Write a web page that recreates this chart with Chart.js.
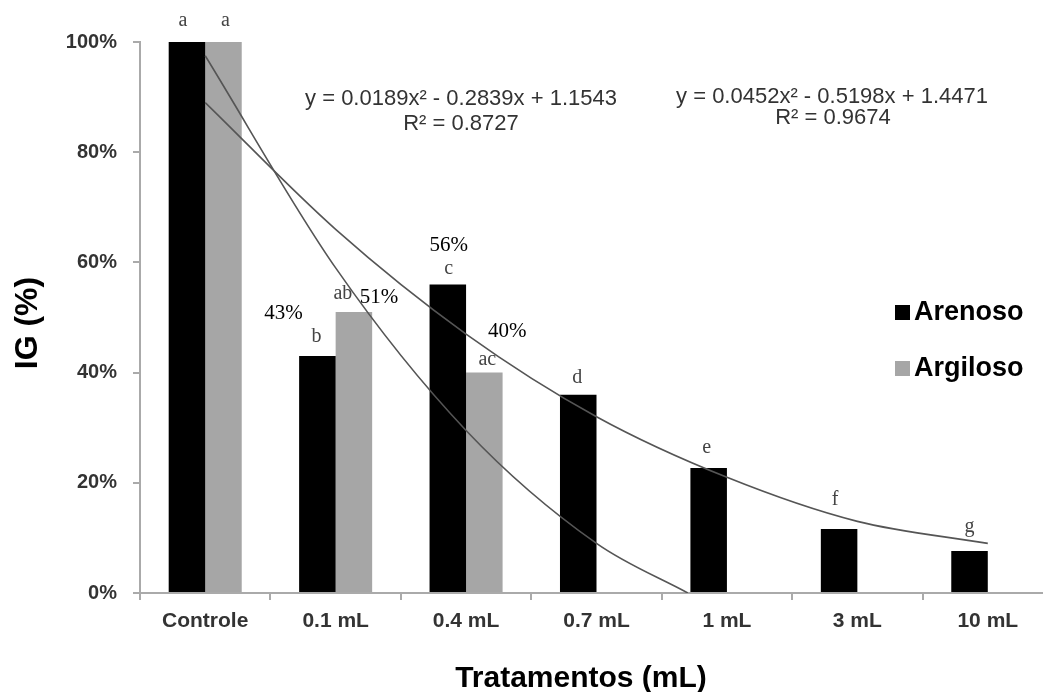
<!DOCTYPE html>
<html>
<head>
<meta charset="utf-8">
<script src="https://cdn.jsdelivr.net/npm/chart.js@4.4.0/dist/chart.umd.min.js"></script>
<style>
  html, body { margin: 0; padding: 0; background: #fff; overflow: hidden; }
  #wrap { width: 1043px; height: 692px; overflow: hidden; }
</style>
</head>
<body>
<div id="wrap"><canvas id="igChart" width="1060" height="692"></canvas></div>
<script>
// DATA
const categories = ['Controle', '0.1 mL', '0.4 mL', '0.7 mL', '1 mL', '3 mL', '10 mL'];
const arenoso = [100, 43, 56, 36, 22.7, 11.6, 7.6];
const argiloso = [100, 51, 40, null, null, null, null];
const arenosoLetters = ['a', 'b', 'c', 'd', 'e', 'f', 'g'];
const argilosoLetters = ['a', 'ab', 'ac', null, null, null, null];
const arenosoPct = [null, '43%', '56%', null, null, null, null];
const argilosoPct = [null, '51%', '40%', null, null, null, null];
const yTicks = [0, 20, 40, 60, 80, 100];

// trend lines (x = category index)
const trendArenosoX = [0, 1, 2, 3, 4, 5, 6];
const trendArenosoY = [89, 66, 47, 32, 21, 13, 9];
const trendArgilosoX = [0, 1, 2, 3, 3.7];
const trendArgilosoY = [97.5, 59, 29.5, 9, 0];
const equations = ['y = 0.0189x² - 0.2839x + 1.1543', 'y = 0.0452x² - 0.5198x + 1.4471'];
const r2Labels = ['R² = 0.8727', 'R² = 0.9674'];

const toPoints = (xs, ys) => xs.map((x, i) => ({ x: x, y: ys[i] }));
const byCategory = vals => vals.map((v, i) => ({ x: i, y: v }));

// placement tweaks for the hand-placed texts
const letterShift = [
  [[-4, -21], [-1, -19], [1, -16], [-1, -17], [-2, -20], [-4, -29], [0, -24]],
  [[2, -21], [-11, -18], [3, -13]]
];
const pctShift = [
  [null, [-34, -43], [1, -39]],
  [null, [25, -15], [23, -41]]
];

const annotations = {
  id: 'annotations',
  afterDraw(chart) {
    const ctx = chart.ctx;
    ctx.save();
    ctx.textAlign = 'center';
    ctx.textBaseline = 'middle';

    const letterSets = [arenosoLetters, argilosoLetters];
    const pctSets = [arenosoPct, argilosoPct];
    [0, 1].forEach(d => {
      const bars = chart.getDatasetMeta(d).data;
      letterSets[d].forEach((txt, i) => {
        if (!txt) return;
        const s = letterShift[d][i];
        ctx.font = '20px "Liberation Serif", "Times New Roman", serif';
        ctx.fillStyle = '#444';
        ctx.fillText(txt, bars[i].x + s[0], bars[i].y + s[1]);
      });
      pctSets[d].forEach((txt, i) => {
        if (!txt) return;
        const s = pctShift[d][i];
        ctx.font = '21px "Liberation Serif", "Times New Roman", serif';
        ctx.fillStyle = '#000';
        ctx.fillText(txt, bars[i].x + s[0], bars[i].y + s[1]);
      });
    });

    // equations of the trend lines
    ctx.font = '22px "Liberation Sans", Arial, sans-serif';
    ctx.fillStyle = '#333';
    ctx.fillText(equations[0], 461, 99);
    ctx.fillText(r2Labels[0], 461, 124);
    ctx.fillText(equations[1], 832, 97);
    ctx.fillText(r2Labels[1], 833, 118);

    // legend
    ctx.textAlign = 'left';
    ctx.font = 'bold 27px "Liberation Sans", Arial, sans-serif';
    [0, 1].forEach(d => {
      const ds = chart.data.datasets[d];
      const y = 312 + d * 56;
      ctx.fillStyle = ds.backgroundColor;
      ctx.fillRect(895, y - 7, 15, 15);
      ctx.fillStyle = '#000';
      ctx.fillText(ds.label, 914, y + 1);
    });

    // axis titles
    ctx.textAlign = 'center';
    ctx.font = 'bold 30px "Liberation Sans", Arial, sans-serif';
    ctx.fillText('Tratamentos (mL)', 581, 679);
    ctx.translate(28, 323);
    ctx.rotate(-Math.PI / 2);
    ctx.font = 'bold 32px "Liberation Sans", Arial, sans-serif';
    ctx.fillText('IG (%)', 0, 0);
    ctx.restore();
  }
};

Chart.defaults.font.family = '"Liberation Sans", Arial, sans-serif';
Chart.defaults.color = '#333';

new Chart(document.getElementById('igChart'), {
  type: 'bar',
  data: {
    datasets: [
      { label: 'Arenoso', data: byCategory(arenoso), backgroundColor: '#000000', order: 2 },
      { label: 'Argiloso', data: byCategory(argiloso), backgroundColor: '#a6a6a6', order: 2 },
      {
        type: 'line', label: 'trend Arenoso', data: toPoints(trendArenosoX, trendArenosoY),
        borderColor: '#555', borderWidth: 1.6, pointRadius: 0,
        cubicInterpolationMode: 'monotone', fill: false, order: 1
      },
      {
        type: 'line', label: 'trend Argiloso', data: toPoints(trendArgilosoX, trendArgilosoY),
        borderColor: '#555', borderWidth: 1.6, pointRadius: 0,
        cubicInterpolationMode: 'monotone', fill: false, order: 1
      }
    ]
  },
  options: {
    responsive: false,
    animation: false,
    devicePixelRatio: 1,
    categoryPercentage: 0.56,
    barPercentage: 1.0,
    layout: { padding: { left: 0, top: 42, right: 7, bottom: 0 } },
    plugins: { legend: { display: false }, tooltip: { enabled: false } },
    scales: {
      x: {
        type: 'linear',
        min: -0.5, max: 6.5,
        offset: false,
        afterFit: s => { s.height = 99; },
        afterBuildTicks: s => { s.ticks = categories.map((c, i) => ({ value: i })); },
        grid: { offset: true, drawOnChartArea: false, drawTicks: true, tickLength: 7, color: '#aaa', lineWidth: 2 },
        border: { color: '#aaa', width: 2 },
        ticks: { font: { size: 21, weight: 'bold' }, color: '#333', padding: 9, callback: v => categories[v] }
      },
      y: {
        min: 0, max: 100,
        afterFit: s => { s.width = 140; },
        afterBuildTicks: s => { s.ticks = yTicks.map(v => ({ value: v })); },
        grid: { drawOnChartArea: false, drawTicks: true, tickLength: 7, color: '#aaa', lineWidth: 2 },
        border: { color: '#aaa', width: 2 },
        ticks: { font: { size: 20, weight: 'bold' }, color: '#333', padding: 16, callback: v => v + '%' }
      }
    }
  },
  plugins: [annotations]
});
</script>
</body>
</html>
